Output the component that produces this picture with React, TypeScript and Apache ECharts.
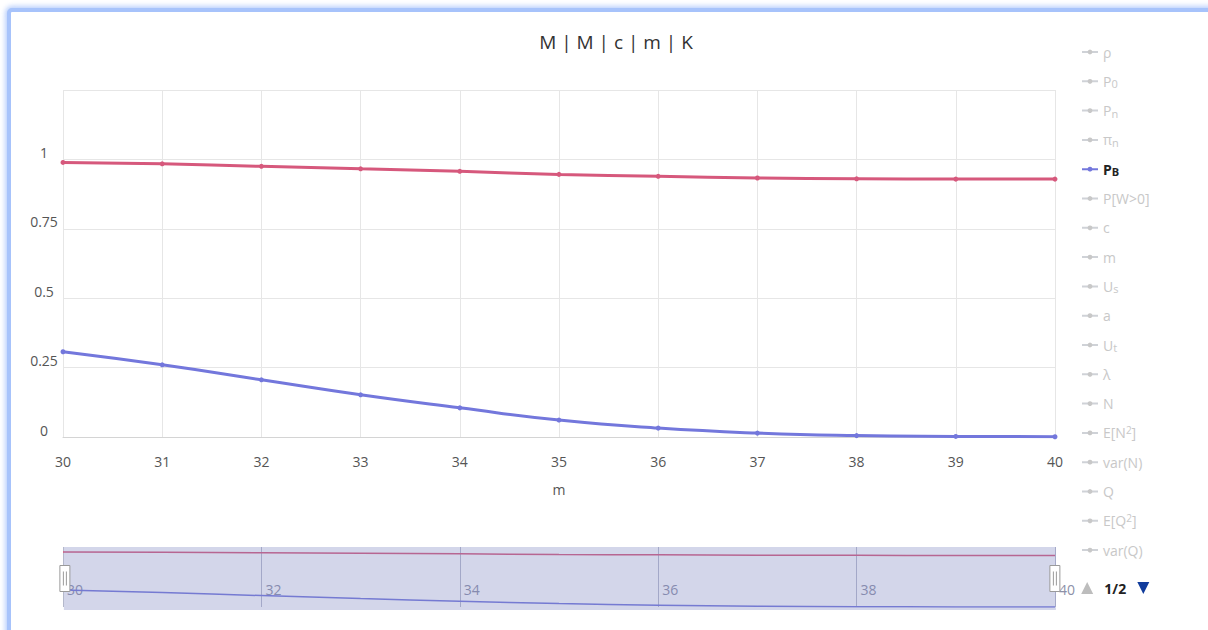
import React, { useEffect, useRef } from "react";
import * as echarts from "echarts";

const titleText = "M | M | c | m | K";
const xAxisName = "m";
const mValues = [30, 31, 32, 33, 34, 35, 36, 37, 38, 39, 40];
const pbValues = [0.307, 0.26, 0.206, 0.152, 0.105, 0.061, 0.032, 0.014, 0.005, 0.002, 0.001];
const pkValues = [0.989, 0.984, 0.975, 0.966, 0.957, 0.946, 0.939, 0.933, 0.93, 0.929, 0.929];
const legendPage1 = ["ρ", "P0", "Pn", "πn", "PB", "P[W>0]", "c", "m", "Us", "a", "Ut", "λ", "N", "E[N2]", "var(N)", "Q", "E[Q2]", "var(Q)"];
const legendPage2 = ["W", "E[W2]", "var(W)", "T", "E[T2]", "var(T)", "PK"];
const legendRich: Record<string, string> = {
  P0: "{n|P}{s|0}",
  Pn: "{n|P}{s|n}",
  "πn": "{n|π}{s|n}",
  PB: "{b|P}{bs|B}",
  Us: "{n|U}{s|s}",
  Ut: "{n|U}{s|t}",
  "E[N2]": "{n|E[N}{p|2}{n|]}",
  "E[Q2]": "{n|E[Q}{p|2}{n|]}",
  "E[W2]": "{n|E[W}{p|2}{n|]}",
  "E[T2]": "{n|E[T}{p|2}{n|]}",
  PK: "{n|P}{s|K}",
};
const selectedNames = ["PB", "PK"];
const seriesColors: Record<string, string> = { PB: "#7377dc", PK: "#d6587c" };
const seriesValues: Record<string, number[]> = { PB: pbValues, PK: pkValues };

const FONT = '"Open Sans", "Noto Sans", sans-serif';

export default function App() {
  const ref = useRef<HTMLDivElement>(null);
  useEffect(() => {
    if (!ref.current) return;
    const chart = echarts.init(ref.current, undefined, { renderer: "svg" });
    const allNames = [...legendPage1, ...legendPage2];
    const selected: Record<string, boolean> = {};
    allNames.forEach((n) => (selected[n] = selectedNames.includes(n)));

    const mainSeries: any[] = allNames.map((name) => {
      const vals = seriesValues[name];
      return {
        name,
        type: "line",
        xAxisIndex: 0,
        yAxisIndex: 0,
        smooth: true,
        symbol: "circle",
        symbolSize: 5,
        color: seriesColors[name] || "#999",
        lineStyle: { width: 3 },
        data: vals ? mValues.map((m, i) => [m, vals[i]]) : [],
        z: name === "PB" ? 3 : 2,
      };
    });
    const navSeries: any[] = selectedNames.map((name) => ({
      name: "nav-" + name,
      type: "line",
      xAxisIndex: 1,
      yAxisIndex: 1,
      smooth: true,
      symbol: "none",
      color: seriesColors[name],
      lineStyle: { width: 1.5 },
      data: mValues.map((m, i) => [m, seriesValues[name][i]]),
      silent: true,
    }));

    chart.setOption({
      animation: false,
      textStyle: { fontFamily: FONT },
      title: {
        text: titleText,
        left: 611,
        top: 27,
        textAlign: "center",
        textStyle: { fontSize: 19, fontWeight: "normal", color: "#333", fontFamily: FONT },
      },
      legend: {
        type: "scroll",
        orient: "vertical",
        left: 1076,
        top: 39,
        height: 551,
        itemWidth: 16,
        itemHeight: 6,
        itemGap: 13.3,
        data: allNames,
        selected,
        inactiveColor: "#c8c8c8",
        formatter: (name: string) => legendRich[name] || "{n|" + name + "}",
        textStyle: {
          fontSize: 14,
          color: "#333",
          lineHeight: 16,
          fontFamily: FONT,
          rich: {
            n: { fontSize: 14, lineHeight: 16, fontFamily: FONT },
            s: { fontSize: 11, lineHeight: 11, verticalAlign: "bottom", padding: [5, 0, 0, 0], fontFamily: FONT },
            p: { fontSize: 10, lineHeight: 10, verticalAlign: "top", padding: [0, 0, 6, 0], fontFamily: FONT },
            b: { fontSize: 14, lineHeight: 16, fontWeight: "bold", color: "#222", fontFamily: FONT },
            bs: { fontSize: 11, lineHeight: 11, verticalAlign: "bottom", fontWeight: "bold", color: "#222", padding: [5, 0, 0, 0], fontFamily: FONT },
          },
        },
        pageIconColor: "#113c9c",
        pageIconInactiveColor: "#bdbdbd",
        pageIconSize: 12,
        pageButtonItemGap: 3,
        pageTextStyle: { color: "#222", fontSize: 14, fontWeight: "bold", fontFamily: FONT },
      },
      grid: [
        { left: 63, right: 153, top: 90, bottom: 193 },
        { left: 63, right: 153, top: 547, height: 60 },
      ],
      xAxis: [
        {
          type: "value",
          gridIndex: 0,
          min: 30,
          max: 40,
          interval: 1,
          name: xAxisName,
          nameLocation: "middle",
          nameGap: 45,
          nameTextStyle: { fontSize: 14, color: "#555", fontFamily: FONT },
          axisLine: { show: true, lineStyle: { color: "#d4d4d4" } },
          axisTick: { show: false },
          axisLabel: { fontSize: 14, color: "#555", margin: 17, fontFamily: FONT },
          splitLine: { show: true, lineStyle: { color: "#e6e6e6" } },
        },
        {
          type: "value",
          gridIndex: 1,
          min: 30,
          max: 40,
          interval: 2,
          axisLine: { show: false },
          axisTick: { show: false },
          axisLabel: { inside: true, align: "left", fontSize: 14, color: "#8d90a8", margin: 11, padding: [0, 0, 0, 4], fontFamily: FONT },
          splitLine: { show: true, lineStyle: { color: "#b8bbcc" } },
        },
      ],
      yAxis: [
        {
          type: "value",
          gridIndex: 0,
          min: 0,
          max: 1.25,
          interval: 0.25,
          axisLine: { show: false },
          axisTick: { show: false },
          axisLabel: {
            fontSize: 14,
            color: "#555",
            align: "center",
            verticalAlign: "bottom",
            margin: 19,
            fontFamily: FONT,
            formatter: (v: number) => (v > 1.2 ? "" : String(v)),
          },
          splitLine: { show: true, lineStyle: { color: "#e6e6e6" } },
        },
        {
          type: "value",
          gridIndex: 1,
          min: 0,
          max: 1.08,
          show: false,
          splitLine: { show: false },
        },
      ],
      dataZoom: [
        {
          type: "slider",
          xAxisIndex: [0],
          start: 0,
          end: 100,
          left: 63,
          right: 153,
          top: 547,
          height: 63,
          showDetail: false,
          showDataShadow: false,
          brushSelect: false,
          backgroundColor: "transparent",
          borderColor: "transparent",
          fillerColor: "rgba(120,130,190,0.33)",
          handleIcon: "path://M0,0L10,0L10,26L0,26Z M3.5,6L3.5,20 M6.5,6L6.5,20",
          handleSize: 26,
          handleStyle: { color: "#fff", borderColor: "#9a9a9a", borderWidth: 1 },
          moveHandleSize: 0,
          moveHandleStyle: { opacity: 0 },
          emphasis: { handleStyle: { color: "#fff", borderColor: "#9a9a9a" }, moveHandleStyle: { opacity: 0 } },
          dataBackground: { lineStyle: { opacity: 0 }, areaStyle: { opacity: 0 } },
        },
      ],
      series: [...mainSeries, ...navSeries],
    });
    return () => chart.dispose();
  }, []);

  return (
    <div style={{ position: "fixed", left: 0, top: 0, width: 1208, height: 630, overflow: "hidden", background: "#fff" }}>
      <div
        style={{
          position: "absolute",
          left: 7,
          top: 8,
          width: 1240,
          height: 660,
          border: "4px solid #a7c3fb",
          borderRadius: 5,
          boxShadow: "0 0 5px 2px rgba(167,195,251,0.8)",
          background: "#fff",
        }}
      />
      <div ref={ref} style={{ position: "absolute", left: 0, top: 0, width: 1208, height: 630 }} />
    </div>
  );
}
